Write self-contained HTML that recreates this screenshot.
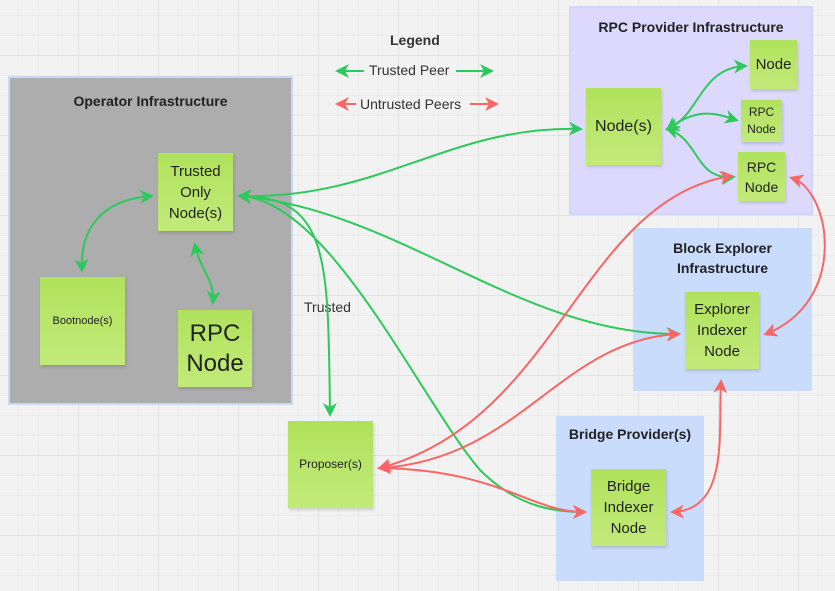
<!DOCTYPE html>
<html><head><meta charset="utf-8"><style>
body{margin:0;width:835px;height:591px;overflow:hidden;background:#f2f2f2;font-family:"Liberation Sans",sans-serif;position:relative;
background-image:linear-gradient(#e2e2e2 1px,transparent 1px),linear-gradient(90deg,#e2e2e2 1px,transparent 1px),linear-gradient(#ebebeb 1px,transparent 1px),linear-gradient(90deg,#ebebeb 1px,transparent 1px);
background-size:80px 80px,80px 80px,20px 20px,20px 20px;background-position:-2px 55px,78px -2px,-2px 15px,18px -2px;}
.box{position:absolute;border:2px solid #c3d5f5;box-sizing:border-box}
.t{position:absolute;font-weight:bold;font-size:14px;color:#222;text-align:center;width:100%;left:0}
.n{position:absolute;background:linear-gradient(#b0e25c,#c2ea7a);box-shadow:1px 2px 3px rgba(0,0,0,.15);display:flex;align-items:center;justify-content:center;text-align:center;color:#222;font-size:15px;line-height:21px}
.l{position:absolute;font-size:14px;color:#333}
</style></head><body>
<div class="box" style="left:8px;top:76px;width:285px;height:329px;background:#adadad;border-color:#c9d9f3"><div class="t" style="top:15px">Operator Infrastructure</div></div>
<div class="box" style="left:569px;top:6px;width:244px;height:209px;background:#ddd9fc;border-color:#cfd6fa"><div class="t" style="top:11px">RPC Provider Infrastructure</div></div>
<div class="box" style="left:633px;top:228px;width:179px;height:163px;background:#c9dcfc;border:none"><div class="t" style="top:10px;line-height:20px">Block Explorer<br>Infrastructure</div></div>
<div class="box" style="left:556px;top:416px;width:148px;height:165px;background:#c9dcfc;border:none"><div class="t" style="top:10px">Bridge Provider(s)</div></div>

<div class="n" style="left:158px;top:153px;width:75px;height:78px">Trusted<br>Only<br>Node(s)</div>
<div class="n" style="left:40px;top:277px;width:85px;height:88px;font-size:11px">Bootnode(s)</div>
<div class="n" style="left:178px;top:310px;width:74px;height:77px;font-size:24px;line-height:30px">RPC<br>Node</div>
<div class="n" style="left:586px;top:88px;width:75px;height:77px;font-size:16px">Node(s)</div>
<div class="n" style="left:750px;top:40px;width:47px;height:49px">Node</div>
<div class="n" style="left:741px;top:100px;width:41px;height:42px;font-size:12px;line-height:17px">RPC<br>Node</div>
<div class="n" style="left:738px;top:152px;width:47px;height:49px;font-size:14px;line-height:20px">RPC<br>Node</div>
<div class="n" style="left:685px;top:292px;width:74px;height:77px">Explorer<br>Indexer<br>Node</div>
<div class="n" style="left:591px;top:469px;width:75px;height:77px">Bridge<br>Indexer<br>Node</div>
<div class="n" style="left:288px;top:421px;width:85px;height:87px;font-size:12px">Proposer(s)</div>

<div class="l" style="left:390px;top:32px;font-weight:bold">Legend</div>
<div class="l" style="left:369px;top:62px">Trusted Peer</div>
<div class="l" style="left:360px;top:96px">Untrusted Peers</div>
<div class="l" style="left:304px;top:299px">Trusted</div>

<svg width="835" height="591" style="position:absolute;left:0;top:0" fill="none" stroke-width="2">
<defs>
<marker id="g" markerWidth="16" markerHeight="16" refX="11" refY="7" orient="auto-start-reverse" markerUnits="userSpaceOnUse"><path d="M0,0 L14,7 L0,14 L4,7Z" fill="#2ec95c" stroke="none"/></marker>
<marker id="r" markerWidth="16" markerHeight="16" refX="11" refY="7" orient="auto-start-reverse" markerUnits="userSpaceOnUse"><path d="M0,0 L14,7 L0,14 L4,7Z" fill="#fa6565" stroke="none"/></marker>
</defs>
<g stroke="#2ec95c" marker-start="url(#g)" marker-end="url(#g)">
<path d="M338,71 H364" marker-end="none"/>
<path d="M456,71 H491" marker-start="none"/>
<path d="M151,196 C100,200 80,230 82,270"/>
<path d="M195,245 C200,270 215,280 213,302"/>
<path d="M240,196 C380,200 450,125 580,129"/>
<path d="M668,129 C700,115 700,68 745,66"/>
<path d="M668,129 C700,105 720,115 736,120"/>
<path d="M668,129 C700,140 695,180 733,177"/>
<path d="M240,196 C400,210 520,335 678,334"/>
<path d="M240,196 C330,200 420,400 480,470 C520,510 560,512 584,512"/>
<path d="M240,196 C330,196 328,260 330,414" marker-start="none"/>
</g>
<g stroke="#fa6565" marker-start="url(#r)" marker-end="url(#r)">
<path d="M338,104 H356" marker-end="none"/>
<path d="M470,104 H496" marker-start="none"/>
<path d="M380,468 C560,420 580,200 731,176"/>
<path d="M380,468 C520,460 560,340 678,334"/>
<path d="M380,468 C500,470 530,512 584,512" marker-start="none"/>
<path d="M766,334 C850,300 830,190 792,178"/>
<path d="M673,512 C730,510 718,430 721,382"/>
</g>
</svg>
</body></html>
